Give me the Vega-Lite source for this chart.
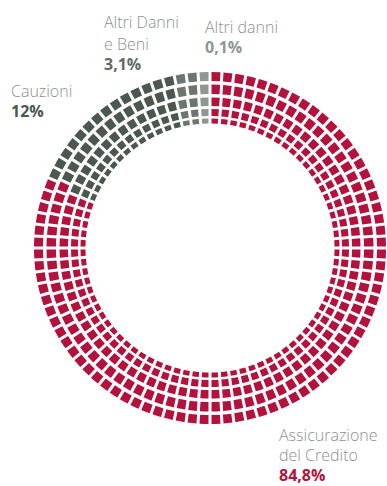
{
"$schema": "https://vega.github.io/schema/vega-lite/v6.json",
"width": 352,
"height": 352,
"autosize": "none",
"padding": {"left": 34, "top": 72, "right": 1, "bottom": 62},
"background": "white",
"config": {"view": {"stroke": null}},
"layer": [
{
"data": {"values": [
{"k":5,"c":"A"},{"k":5,"c":"A"},{"k":5,"c":"A"},{"k":5,"c":"A"},{"k":5,"c":"A"},{"k":5,"c":"A"},{"k":5,"c":"A"},{"k":5,"c":"A"},{"k":5,"c":"A"},{"k":5,"c":"A"},
{"k":5,"c":"A"},{"k":5,"c":"A"},{"k":5,"c":"A"},{"k":5,"c":"A"},{"k":5,"c":"A"},{"k":5,"c":"A"},{"k":5,"c":"A"},{"k":5,"c":"A"},{"k":5,"c":"A"},{"k":5,"c":"A"},
{"k":5,"c":"A"},{"k":5,"c":"A"},{"k":5,"c":"A"},{"k":5,"c":"A"},{"k":5,"c":"A"},{"k":5,"c":"A"},{"k":5,"c":"A"},{"k":5,"c":"A"},{"k":5,"c":"A"},{"k":5,"c":"A"},
{"k":5,"c":"A"},{"k":5,"c":"A"},{"k":5,"c":"A"},{"k":5,"c":"A"},{"k":5,"c":"A"},{"k":5,"c":"A"},{"k":5,"c":"A"},{"k":5,"c":"A"},{"k":5,"c":"A"},{"k":5,"c":"A"},
{"k":5,"c":"A"},{"k":5,"c":"A"},{"k":5,"c":"A"},{"k":5,"c":"A"},{"k":5,"c":"A"},{"k":5,"c":"A"},{"k":5,"c":"A"},{"k":5,"c":"A"},{"k":5,"c":"A"},{"k":5,"c":"A"},
{"k":5,"c":"A"},{"k":5,"c":"A"},{"k":5,"c":"A"},{"k":5,"c":"A"},{"k":5,"c":"A"},{"k":5,"c":"A"},{"k":5,"c":"A"},{"k":5,"c":"A"},{"k":5,"c":"A"},{"k":5,"c":"A"},
{"k":5,"c":"A"},{"k":5,"c":"A"},{"k":5,"c":"A"},{"k":5,"c":"A"},{"k":5,"c":"A"},{"k":5,"c":"A"},{"k":5,"c":"A"},{"k":5,"c":"A"},{"k":5,"c":"A"},{"k":5,"c":"A"},
{"k":5,"c":"A"},{"k":5,"c":"A"},{"k":5,"c":"A"},{"k":5,"c":"A"},{"k":5,"c":"A"},
{"k":5,"c":"B"},{"k":5,"c":"B"},{"k":5,"c":"B"},{"k":5,"c":"B"},{"k":5,"c":"B"},{"k":5,"c":"B"},{"k":5,"c":"B"},{"k":5,"c":"B"},{"k":5,"c":"B"},{"k":5,"c":"B"},
{"k":5,"c":"B"},{"k":5,"c":"B"},{"k":5,"c":"B"},{"k":5,"c":"B"},
{"k":5,"c":"C"},{"k":5,"c":"C"},
{"k":5,"c":"D"},
{"k":4,"c":"A"},{"k":4,"c":"A"},{"k":4,"c":"A"},{"k":4,"c":"A"},{"k":4,"c":"A"},{"k":4,"c":"A"},{"k":4,"c":"A"},{"k":4,"c":"A"},{"k":4,"c":"A"},{"k":4,"c":"A"},
{"k":4,"c":"A"},{"k":4,"c":"A"},{"k":4,"c":"A"},{"k":4,"c":"A"},{"k":4,"c":"A"},{"k":4,"c":"A"},{"k":4,"c":"A"},{"k":4,"c":"A"},{"k":4,"c":"A"},{"k":4,"c":"A"},
{"k":4,"c":"A"},{"k":4,"c":"A"},{"k":4,"c":"A"},{"k":4,"c":"A"},{"k":4,"c":"A"},{"k":4,"c":"A"},{"k":4,"c":"A"},{"k":4,"c":"A"},{"k":4,"c":"A"},{"k":4,"c":"A"},
{"k":4,"c":"A"},{"k":4,"c":"A"},{"k":4,"c":"A"},{"k":4,"c":"A"},{"k":4,"c":"A"},{"k":4,"c":"A"},{"k":4,"c":"A"},{"k":4,"c":"A"},{"k":4,"c":"A"},{"k":4,"c":"A"},
{"k":4,"c":"A"},{"k":4,"c":"A"},{"k":4,"c":"A"},{"k":4,"c":"A"},{"k":4,"c":"A"},{"k":4,"c":"A"},{"k":4,"c":"A"},{"k":4,"c":"A"},{"k":4,"c":"A"},{"k":4,"c":"A"},
{"k":4,"c":"A"},{"k":4,"c":"A"},{"k":4,"c":"A"},{"k":4,"c":"A"},{"k":4,"c":"A"},{"k":4,"c":"A"},{"k":4,"c":"A"},{"k":4,"c":"A"},{"k":4,"c":"A"},{"k":4,"c":"A"},
{"k":4,"c":"A"},{"k":4,"c":"A"},{"k":4,"c":"A"},{"k":4,"c":"A"},{"k":4,"c":"A"},{"k":4,"c":"A"},{"k":4,"c":"A"},{"k":4,"c":"A"},{"k":4,"c":"A"},{"k":4,"c":"A"},
{"k":4,"c":"A"},{"k":4,"c":"A"},
{"k":4,"c":"B"},{"k":4,"c":"B"},{"k":4,"c":"B"},{"k":4,"c":"B"},{"k":4,"c":"B"},{"k":4,"c":"B"},{"k":4,"c":"B"},{"k":4,"c":"B"},{"k":4,"c":"B"},{"k":4,"c":"B"},
{"k":4,"c":"B"},{"k":4,"c":"B"},{"k":4,"c":"B"},
{"k":4,"c":"C"},{"k":4,"c":"C"},
{"k":4,"c":"D"},
{"k":3,"c":"A"},{"k":3,"c":"A"},{"k":3,"c":"A"},{"k":3,"c":"A"},{"k":3,"c":"A"},{"k":3,"c":"A"},{"k":3,"c":"A"},{"k":3,"c":"A"},{"k":3,"c":"A"},{"k":3,"c":"A"},
{"k":3,"c":"A"},{"k":3,"c":"A"},{"k":3,"c":"A"},{"k":3,"c":"A"},{"k":3,"c":"A"},{"k":3,"c":"A"},{"k":3,"c":"A"},{"k":3,"c":"A"},{"k":3,"c":"A"},{"k":3,"c":"A"},
{"k":3,"c":"A"},{"k":3,"c":"A"},{"k":3,"c":"A"},{"k":3,"c":"A"},{"k":3,"c":"A"},{"k":3,"c":"A"},{"k":3,"c":"A"},{"k":3,"c":"A"},{"k":3,"c":"A"},{"k":3,"c":"A"},
{"k":3,"c":"A"},{"k":3,"c":"A"},{"k":3,"c":"A"},{"k":3,"c":"A"},{"k":3,"c":"A"},{"k":3,"c":"A"},{"k":3,"c":"A"},{"k":3,"c":"A"},{"k":3,"c":"A"},{"k":3,"c":"A"},
{"k":3,"c":"A"},{"k":3,"c":"A"},{"k":3,"c":"A"},{"k":3,"c":"A"},{"k":3,"c":"A"},{"k":3,"c":"A"},{"k":3,"c":"A"},{"k":3,"c":"A"},{"k":3,"c":"A"},{"k":3,"c":"A"},
{"k":3,"c":"A"},{"k":3,"c":"A"},{"k":3,"c":"A"},{"k":3,"c":"A"},{"k":3,"c":"A"},{"k":3,"c":"A"},{"k":3,"c":"A"},{"k":3,"c":"A"},{"k":3,"c":"A"},{"k":3,"c":"A"},
{"k":3,"c":"A"},{"k":3,"c":"A"},{"k":3,"c":"A"},{"k":3,"c":"A"},{"k":3,"c":"A"},{"k":3,"c":"A"},{"k":3,"c":"A"},{"k":3,"c":"A"},
{"k":3,"c":"B"},{"k":3,"c":"B"},{"k":3,"c":"B"},{"k":3,"c":"B"},{"k":3,"c":"B"},{"k":3,"c":"B"},{"k":3,"c":"B"},{"k":3,"c":"B"},{"k":3,"c":"B"},{"k":3,"c":"B"},
{"k":3,"c":"B"},{"k":3,"c":"B"},{"k":3,"c":"B"},
{"k":3,"c":"C"},{"k":3,"c":"C"},
{"k":3,"c":"D"},
{"k":2,"c":"A"},{"k":2,"c":"A"},{"k":2,"c":"A"},{"k":2,"c":"A"},{"k":2,"c":"A"},{"k":2,"c":"A"},{"k":2,"c":"A"},{"k":2,"c":"A"},{"k":2,"c":"A"},{"k":2,"c":"A"},
{"k":2,"c":"A"},{"k":2,"c":"A"},{"k":2,"c":"A"},{"k":2,"c":"A"},{"k":2,"c":"A"},{"k":2,"c":"A"},{"k":2,"c":"A"},{"k":2,"c":"A"},{"k":2,"c":"A"},{"k":2,"c":"A"},
{"k":2,"c":"A"},{"k":2,"c":"A"},{"k":2,"c":"A"},{"k":2,"c":"A"},{"k":2,"c":"A"},{"k":2,"c":"A"},{"k":2,"c":"A"},{"k":2,"c":"A"},{"k":2,"c":"A"},{"k":2,"c":"A"},
{"k":2,"c":"A"},{"k":2,"c":"A"},{"k":2,"c":"A"},{"k":2,"c":"A"},{"k":2,"c":"A"},{"k":2,"c":"A"},{"k":2,"c":"A"},{"k":2,"c":"A"},{"k":2,"c":"A"},{"k":2,"c":"A"},
{"k":2,"c":"A"},{"k":2,"c":"A"},{"k":2,"c":"A"},{"k":2,"c":"A"},{"k":2,"c":"A"},{"k":2,"c":"A"},{"k":2,"c":"A"},{"k":2,"c":"A"},{"k":2,"c":"A"},{"k":2,"c":"A"},
{"k":2,"c":"A"},{"k":2,"c":"A"},{"k":2,"c":"A"},{"k":2,"c":"A"},{"k":2,"c":"A"},{"k":2,"c":"A"},{"k":2,"c":"A"},{"k":2,"c":"A"},{"k":2,"c":"A"},{"k":2,"c":"A"},
{"k":2,"c":"A"},{"k":2,"c":"A"},{"k":2,"c":"A"},{"k":2,"c":"A"},{"k":2,"c":"A"},{"k":2,"c":"A"},{"k":2,"c":"A"},{"k":2,"c":"A"},
{"k":2,"c":"B"},{"k":2,"c":"B"},{"k":2,"c":"B"},{"k":2,"c":"B"},{"k":2,"c":"B"},{"k":2,"c":"B"},{"k":2,"c":"B"},{"k":2,"c":"B"},{"k":2,"c":"B"},{"k":2,"c":"B"},
{"k":2,"c":"B"},{"k":2,"c":"B"},{"k":2,"c":"B"},
{"k":2,"c":"C"},{"k":2,"c":"C"},
{"k":2,"c":"D"},
{"k":1,"c":"A"},{"k":1,"c":"A"},{"k":1,"c":"A"},{"k":1,"c":"A"},{"k":1,"c":"A"},{"k":1,"c":"A"},{"k":1,"c":"A"},{"k":1,"c":"A"},{"k":1,"c":"A"},{"k":1,"c":"A"},
{"k":1,"c":"A"},{"k":1,"c":"A"},{"k":1,"c":"A"},{"k":1,"c":"A"},{"k":1,"c":"A"},{"k":1,"c":"A"},{"k":1,"c":"A"},{"k":1,"c":"A"},{"k":1,"c":"A"},{"k":1,"c":"A"},
{"k":1,"c":"A"},{"k":1,"c":"A"},{"k":1,"c":"A"},{"k":1,"c":"A"},{"k":1,"c":"A"},{"k":1,"c":"A"},{"k":1,"c":"A"},{"k":1,"c":"A"},{"k":1,"c":"A"},{"k":1,"c":"A"},
{"k":1,"c":"A"},{"k":1,"c":"A"},{"k":1,"c":"A"},{"k":1,"c":"A"},{"k":1,"c":"A"},{"k":1,"c":"A"},{"k":1,"c":"A"},{"k":1,"c":"A"},{"k":1,"c":"A"},{"k":1,"c":"A"},
{"k":1,"c":"A"},{"k":1,"c":"A"},{"k":1,"c":"A"},{"k":1,"c":"A"},{"k":1,"c":"A"},{"k":1,"c":"A"},{"k":1,"c":"A"},{"k":1,"c":"A"},{"k":1,"c":"A"},{"k":1,"c":"A"},
{"k":1,"c":"A"},{"k":1,"c":"A"},{"k":1,"c":"A"},{"k":1,"c":"A"},{"k":1,"c":"A"},{"k":1,"c":"A"},{"k":1,"c":"A"},{"k":1,"c":"A"},{"k":1,"c":"A"},{"k":1,"c":"A"},
{"k":1,"c":"A"},{"k":1,"c":"A"},{"k":1,"c":"A"},{"k":1,"c":"A"},{"k":1,"c":"A"},{"k":1,"c":"A"},{"k":1,"c":"A"},{"k":1,"c":"A"},
{"k":1,"c":"B"},{"k":1,"c":"B"},{"k":1,"c":"B"},{"k":1,"c":"B"},{"k":1,"c":"B"},{"k":1,"c":"B"},{"k":1,"c":"B"},{"k":1,"c":"B"},{"k":1,"c":"B"},{"k":1,"c":"B"},
{"k":1,"c":"B"},{"k":1,"c":"B"},{"k":1,"c":"B"},
{"k":1,"c":"C"},{"k":1,"c":"C"},
{"k":1,"c":"D"}
]},
"transform": [
{"stack": "k", "groupby": ["k"], "sort": [{"field": "c", "order": "ascending"}], "as": ["t0", "t1"], "offset": "normalize"}
],
"encoding": {
"theta": {"field": "t0", "type": "quantitative", "stack": null, "scale": {"domain": [0, 1], "range": [0, 6.283185307179586]}},
"theta2": {"field": "t1"},
"color": {"field": "c", "type": "nominal", "legend": null, "scale": {"domain": ["A", "B", "C", "D"], "range": ["#b3123c", "#4a5850", "#6b766f", "#8e9792"]}}
},
"layer": [
{"transform": [{"filter": {"field": "k", "equal": 5}}], "mark": {"type": "arc", "radius": 176, "radius2": 167, "padAngle": 0.0124}},
{"transform": [{"filter": {"field": "k", "equal": 4}}], "mark": {"type": "arc", "radius": 163.5, "radius2": 154, "padAngle": 0.0135}},
{"transform": [{"filter": {"field": "k", "equal": 3}}], "mark": {"type": "arc", "radius": 150.5, "radius2": 142, "padAngle": 0.0145}},
{"transform": [{"filter": {"field": "k", "equal": 2}}], "mark": {"type": "arc", "radius": 139, "radius2": 132, "padAngle": 0.0157}},
{"transform": [{"filter": {"field": "k", "equal": 1}}], "mark": {"type": "arc", "radius": 129.5, "radius2": 124.5, "padAngle": 0.0167}}
]
},
{
"data": {"values": [
{"c": "C", "kind": "name", "t": "Altri Danni", "x": -106, "y": 220},
{"c": "C", "kind": "name", "t": "e Beni", "x": -106, "y": 198},
{"c": "C", "kind": "value", "t": "3,1%", "x": -106, "y": 178},
{"c": "D", "kind": "name", "t": "Altri danni", "x": -5, "y": 215},
{"c": "D", "kind": "value", "t": "0,1%", "x": -5, "y": 195},
{"c": "B", "kind": "name", "t": "Cauzioni", "x": -199, "y": 151},
{"c": "B", "kind": "value", "t": "12%", "x": -199, "y": 131},
{"c": "A", "kind": "name", "t": "Assicurazione", "x": 69, "y": -193},
{"c": "A", "kind": "name", "t": "del Credito", "x": 69, "y": -213},
{"c": "A", "kind": "value", "t": "84,8%", "x": 69, "y": -233}
]},
"encoding": {
"x": {"field": "x", "type": "quantitative", "axis": null, "scale": {"domain": [-176, 176], "nice": false, "zero": false}},
"y": {"field": "y", "type": "quantitative", "axis": null, "scale": {"domain": [-176, 176], "nice": false, "zero": false}},
"text": {"field": "t"}
},
"layer": [
{"transform": [{"filter": {"field": "kind", "equal": "name"}}], "mark": {"type": "text", "align": "left", "baseline": "alphabetic", "font": "Open Sans", "fontSize": 16, "fontWeight": 300, "color": "#8b918e"}},
{"transform": [{"filter": {"field": "kind", "equal": "value"}}], "mark": {"type": "text", "align": "left", "baseline": "alphabetic", "font": "Open Sans", "fontSize": 16, "fontWeight": "bold"},
 "encoding": {"color": {"field": "c", "type": "nominal", "legend": null, "scale": {"domain": ["A", "B", "C", "D"], "range": ["#b3123c", "#4a5850", "#5f6b65", "#8e9792"]}}}}
]
}
],
"resolve": {"scale": {"color": "independent"}}
}
